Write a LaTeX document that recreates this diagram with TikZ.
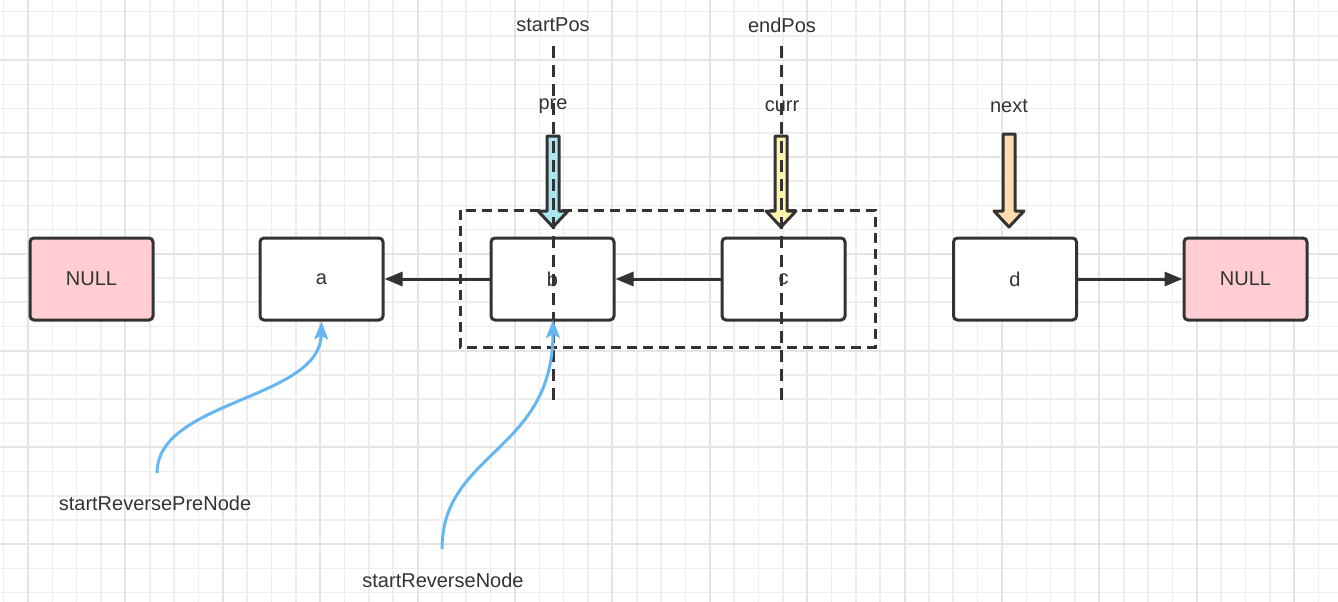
\documentclass[tikz,border=0pt]{standalone}
\usepackage{fontspec}
\setmainfont{Liberation Sans}
\usetikzlibrary{arrows.meta}
\definecolor{ink}{HTML}{333333}
\definecolor{gridminor}{HTML}{EEEEEE}
\definecolor{gridmajor}{HTML}{E4E4E4}
\definecolor{nullfill}{HTML}{FFCDD2}
\definecolor{precol}{HTML}{A9E6EE}
\definecolor{currcol}{HTML}{FFF3B0}
\definecolor{nextcol}{HTML}{FFDDAE}
\definecolor{bluearr}{HTML}{66B6F2}
\tikzset{
  listbox/.style={draw=ink, line width=3pt, rounded corners=4pt, fill=white,
    minimum width=123pt, minimum height=82pt, inner sep=0pt, text=ink, font=\fontsize{20}{23}\selectfont},
  nullbox/.style={listbox, fill=nullfill},
  lbl/.style={text=ink, inner sep=0pt, font=\fontsize{20}{23}\selectfont},
  conn/.style={draw=ink, line width=3pt, -{Triangle[length=18pt,width=14pt]}},
  vdash/.style={draw=ink, line width=3pt, dash pattern=on 12pt off 7pt},
  rdash/.style={draw=ink, line width=3pt, dash pattern=on 10pt off 6pt},
  blockarr/.style={draw=ink, line width=3pt, line join=round},
  bluecurve/.style={draw=bluearr, line width=3pt, -{Stealth[length=18pt,width=14pt,inset=4pt]}}
}
\begin{document}
\begin{tikzpicture}[x=1pt,y=-1pt]
\useasboundingbox (0,0) rectangle (1338,602);
\fill[white] (0,0) rectangle (1338,602);
% grid
\foreach \k in {0,...,54} {\draw[gridminor, line width=1.6pt] ({3.6+24.35*\k},0) -- ({3.6+24.35*\k},602);}
\foreach \k in {0,...,24} {\draw[gridminor, line width=1.6pt] (0,{11.7+24.2*\k}) -- (1338,{11.7+24.2*\k});}
\foreach \k in {1,5,...,53} {\draw[gridmajor, line width=2pt] ({3.6+24.35*\k},0) -- ({3.6+24.35*\k},602);}
\foreach \k in {2,6,...,22} {\draw[gridmajor, line width=2pt] (0,{11.7+24.2*\k}) -- (1338,{11.7+24.2*\k});}
% dashed group rectangle
\draw[rdash] (460,210) rectangle (875,347);
% list boxes
\node[nullbox] (null1) at (91.5,279) {NULL};
\node[listbox] (a) at (321.5,279) {a};
\node[listbox] (b) at (552.5,279) {b};
\node[listbox] (c) at (783.5,279) {c};
\node[listbox] (d) at (1015,279) {d};
\node[nullbox] (null2) at (1245.5,279) {NULL};
% connectors
\draw[conn] (b.west) -- (a.east);
\draw[conn] (c.west) -- (b.east);
\draw[conn] (d.east) -- (null2.west);
% labels
\node[lbl] (startpos) at (553,25) {startPos};
\node[lbl] (endpos) at (782,25) {endPos};
\node[lbl] (pre) at (553,106) {pre};
\node[lbl] (curr) at (782,106) {curr};
\node[lbl] (next) at (1009,106) {next};
\node[lbl] (srp) at (155,503) {startReversePreNode};
\node[lbl] (srn) at (443,580) {startReverseNode};
% block arrows
\draw[blockarr, fill=precol] (547,136) -- (559,136) -- (559,211) -- (568,211) -- (553,227) -- (538,211) -- (547,211) -- cycle;
\draw[blockarr, fill=currcol] (775,136) -- (787,136) -- (787,211) -- (796,211) -- (781,227) -- (766,211) -- (775,211) -- cycle;
\draw[blockarr, fill=nextcol] (1003,134) -- (1015,134) -- (1015,211) -- (1024,211) -- (1009,227) -- (994,211) -- (1003,211) -- cycle;
% vertical dashed markers
\coordinate (sptop) at (553,46);
\coordinate (spbot) at (553,400);
\coordinate (eptop) at (781,46);
\coordinate (epbot) at (781,400);
\draw[vdash] (sptop) -- (spbot);
\draw[vdash] (eptop) -- (epbot);
% blue curved pointers
\coordinate (srpstart) at (157,473);
\coordinate (srnstart) at (442,549);
\draw[bluecurve] (srpstart) .. controls (157,400) and (320,400) .. (a.south);
\draw[bluecurve] (srnstart) .. controls (442,452) and (553,452) .. (553,320);
\end{tikzpicture}
\end{document}
